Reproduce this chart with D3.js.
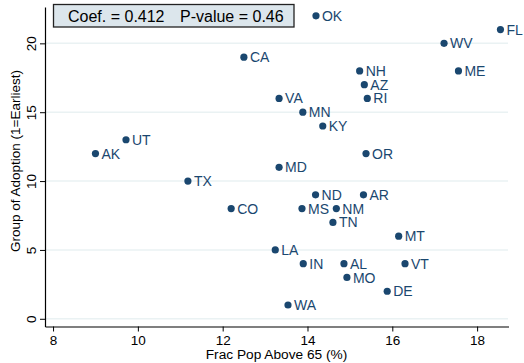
<!DOCTYPE html>
<html><head><meta charset="utf-8">
<script src="https://cdn.jsdelivr.net/npm/d3@7"></script>
<style>body{margin:0;background:#fff}svg{display:block}</style>
</head><body>
<svg id="c" width="524" height="363"></svg>
<script>
const states = ["OK","FL","WV","CA","NH","ME","AZ","RI","VA","MN","KY","OR","MD","UT","AK","TX","CO","ND","AR","MS","NM","TN","MT","LA","IN","AL","VT","MO","DE","WA"];
const fracAbove65 = [14.2,18.55,17.22,12.5,15.23,17.56,15.34,15.41,13.33,13.89,14.36,15.38,13.33,9.72,9.0,11.18,12.2,14.19,15.32,13.87,14.68,14.6,16.15,13.24,13.9,14.86,16.3,14.93,15.88,13.54];
const adoptionGroup = [22,21,20,19,18,18,17,16,16,15,14,12,11,13,12,10,8,9,9,8,8,7,6,5,4,4,4,3,2,1];
const xTicks = [8,10,12,14,16,18];
const yTicks = [0,5,10,15,20];
const statsParts = ["Coef. = 0.412","P-value = 0.46"];

const svg = d3.select("#c");
const navy = "#1a476f";
const font = "Liberation Sans, Arial, sans-serif";
const x = d3.scaleLinear().domain([7.81,18.74]).range([45,508.5]);
const y = d3.scaleLinear().domain([-0.56,22.64]).range([326.5,7]);

// gridlines
svg.append("g").selectAll("line").data(yTicks).join("line")
  .attr("x1",46).attr("x2",508).attr("y1",d=>y(d)).attr("y2",d=>y(d))
  .attr("stroke","#eaf2f3").attr("stroke-width",1.5);

const xa = svg.append("g").attr("transform","translate(0,326.5)")
  .call(d3.axisBottom(x).tickValues(xTicks).tickSize(5).tickPadding(4).tickSizeOuter(0));
const ya = svg.append("g").attr("transform","translate(45,0)")
  .call(d3.axisLeft(y).tickValues(yTicks).tickSize(5).tickPadding(3).tickSizeOuter(0));
[xa,ya].forEach(a=>{
  a.select(".domain").attr("stroke","#000").attr("stroke-width",1.2);
  a.selectAll(".tick line").attr("stroke","#000");
  a.selectAll("text").attr("font-family",font).attr("font-size",13.5).attr("fill","#000");
});
ya.selectAll(".tick text").each(function(){
  d3.select(this).attr("x",0).attr("y",0).attr("dy","0").attr("text-anchor","middle")
    .attr("dominant-baseline","central").attr("transform","translate(-14,0) rotate(-90)");
});

svg.append("text").attr("x",276.5).attr("y",359).attr("text-anchor","middle")
  .attr("font-family",font).attr("font-size",13.7).text("Frac Pop Above 65 (%)");
svg.append("text").attr("transform","translate(20,161) rotate(-90)").attr("text-anchor","middle")
  .attr("font-family",font).attr("font-size",13.5).text("Group of Adoption (1=Earliest)");

const data = states.map((s,i)=>({s, x:fracAbove65[i], y:adoptionGroup[i]}));
const g = svg.append("g");
g.selectAll("circle").data(data).join("circle")
  .attr("cx",d=>x(d.x)).attr("cy",d=>y(d.y)).attr("r",3.6).attr("fill",navy);
g.selectAll("text").data(data).join("text")
  .attr("x",d=>x(d.x)+6).attr("y",d=>y(d.y)).attr("dy","0.36em")
  .attr("font-family",font).attr("font-size",14).attr("fill",navy).text(d=>d.s);

// stats box
svg.append("rect").attr("x",53.5).attr("y",4.5).attr("width",240.5).attr("height",22.5)
  .attr("fill","#dce6ec").attr("stroke","#222").attr("stroke-width",1.3);
svg.selectAll(".stat").data(statsParts).join("text").attr("class","stat")
  .attr("x",(d,i)=>i===0?68:180).attr("y",21.5)
  .attr("font-family",font).attr("font-size",16).attr("fill","#000").text(d=>d);
</script>
</body></html>
